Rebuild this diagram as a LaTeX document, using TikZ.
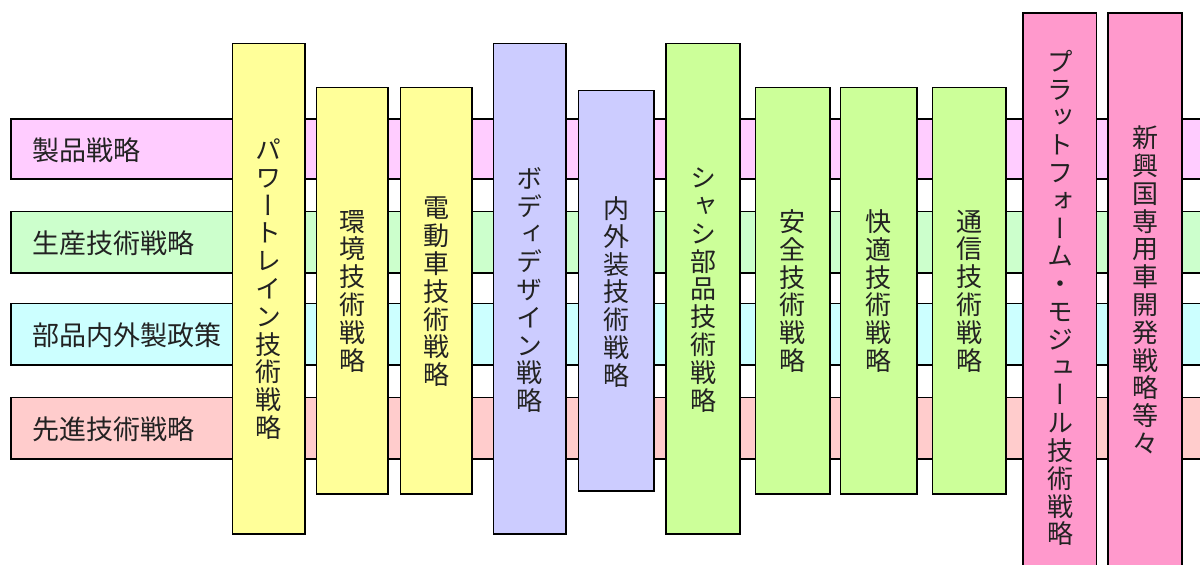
\documentclass[tikz,border=0pt]{standalone}
\usepackage{fontspec}
\newfontfamily\jp{Noto Sans CJK JP}
\newfontfamily\vjp[RawFeature=+vert]{Noto Sans CJK JP}
\definecolor{cA}{HTML}{FFCCFF}
\definecolor{cB}{HTML}{CCFFCC}
\definecolor{cC}{HTML}{CCFFFF}
\definecolor{cD}{HTML}{FFCCCC}
\definecolor{cY}{HTML}{FFFF99}
\definecolor{cL}{HTML}{CCCCFF}
\definecolor{cG}{HTML}{CCFF99}
\definecolor{cP}{HTML}{FF99CC}
\definecolor{tx}{HTML}{222222}
\tikzset{
  bar/.style={draw=black, line width=1.2pt},
  htext/.style={anchor=west, inner sep=0pt, text=tx, font=\jp\fontsize{27}{30}\selectfont},
  vtext/.style={inner sep=0pt, align=center, text=tx, font=\vjp\fontsize{26}{27.8}\selectfont},
}
\begin{document}
\begin{tikzpicture}[x=1pt,y=-1pt]
\useasboundingbox (0,0) rectangle (1200,565);
\begin{scope}
\clip (0,0) rectangle (1200,565);
% horizontal bars
\draw[bar, fill=cA] (11,119) rectangle (1210,179);
\draw[bar, fill=cB] (11,211.5) rectangle (1210,273);
\draw[bar, fill=cC] (11,303.5) rectangle (1210,365);
\draw[bar, fill=cD] (11,397.5) rectangle (1210,459);
\node[htext] (h1) at (32,150) {製品戦略};
\node[htext] (h2) at (32,243) {生産技術戦略};
\node[htext] (h3) at (32,335) {部品内外製政策};
\node[htext] (h4) at (32,429) {先進技術戦略};
% vertical boxes
\draw[bar, fill=cY] (232.5,43.5) rectangle (305,534);
\draw[bar, fill=cY] (316.5,87.5) rectangle (388,494);
\draw[bar, fill=cY] (400.5,87.5) rectangle (472,494);
\draw[bar, fill=cL] (493.5,43.5) rectangle (566,534);
\draw[bar, fill=cL] (578.5,90.5) rectangle (654,491);
\draw[bar, fill=cG] (666,43.5) rectangle (740,534);
\draw[bar, fill=cG] (755.5,87.5) rectangle (830,494);
\draw[bar, fill=cG] (840.5,87.5) rectangle (917,494);
\draw[bar, fill=cG] (932.5,87.5) rectangle (1006,494);
\draw[bar, fill=cP] (1023,13) rectangle (1096.5,600);
\draw[bar, fill=cP] (1108,13) rectangle (1182,600);
\node[vtext] (v1) at (268.5,289) {パ\\ワ\\ー\\ト\\レ\\イ\\ン\\技\\術\\戦\\略};
\node[vtext] (v2) at (352,291) {環\\境\\技\\術\\戦\\略};
\node[vtext] (v3) at (436,292) {電\\動\\車\\技\\術\\戦\\略};
\node[vtext] (v4) at (529.5,290) {ボ\\デ\\ィ\\デ\\ザ\\イ\\ン\\戦\\略};
\node[vtext] (v5) at (616,292) {内\\外\\装\\技\\術\\戦\\略};
\node[vtext] (v6) at (703,290) {シ\\ャ\\シ\\部\\品\\技\\術\\戦\\略};
\node[vtext] (v7) at (792.5,291) {安\\全\\技\\術\\戦\\略};
\node[vtext] (v8) at (878.5,291) {快\\適\\技\\術\\戦\\略};
\node[vtext] (v9) at (969,291) {通\\信\\技\\術\\戦\\略};
\node[vtext] (v10) at (1060,298) {プ\\ラ\\ッ\\ト\\フ\\ォ\\ー\\ム\\・\\モ\\ジ\\ュ\\ー\\ル\\技\\術\\戦\\略};
\node[vtext] (v11) at (1145,290) {新\\興\\国\\専\\用\\車\\開\\発\\戦\\略\\等\\々};
\end{scope}
\end{tikzpicture}
\end{document}
